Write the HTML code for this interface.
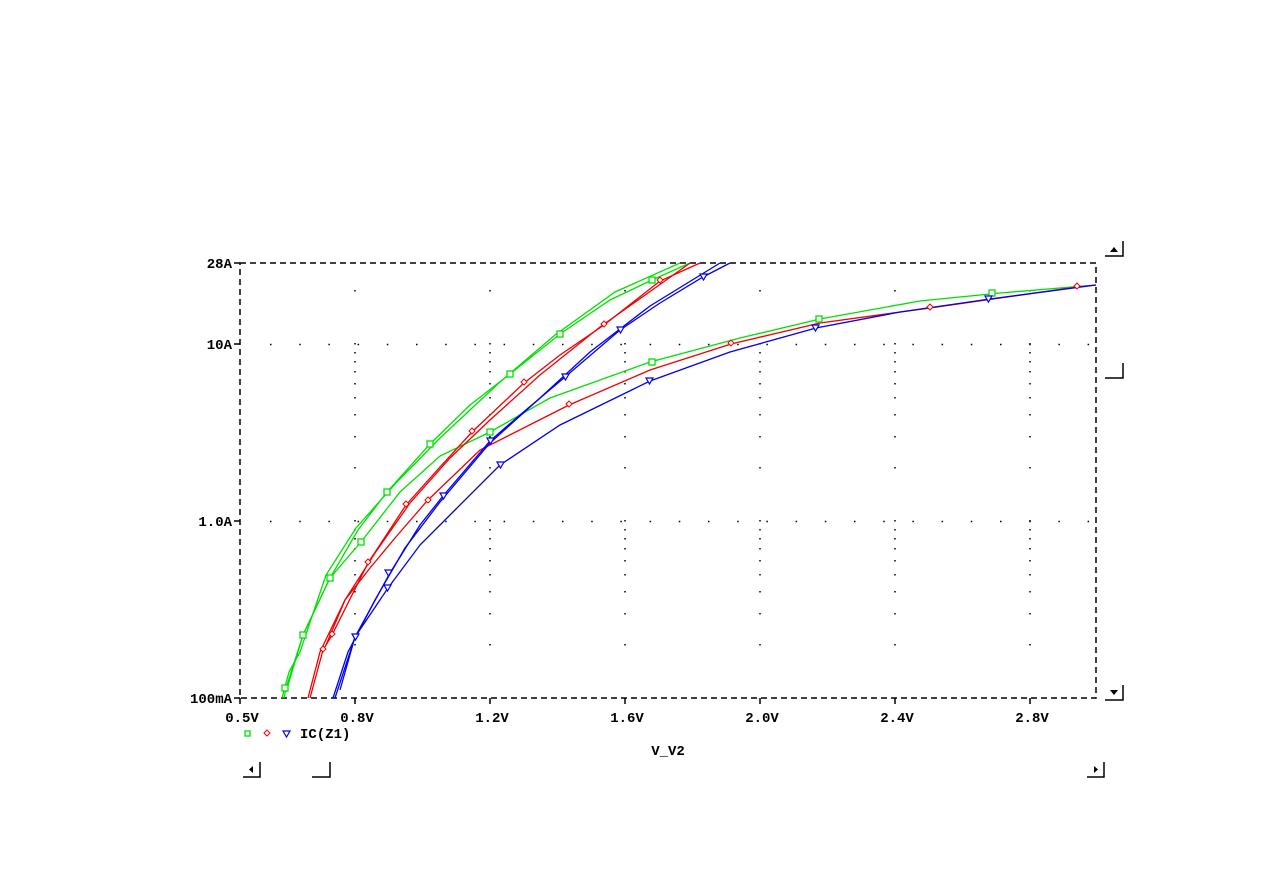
<!DOCTYPE html>
<html><head><style>
body{margin:0;background:#fff;}
svg{display:block;}
text{font-family:"Liberation Mono",monospace;font-weight:bold;font-size:14px;fill:#000;}
</style></head><body>
<svg width="1263" height="893" viewBox="0 0 1263 893" xmlns="http://www.w3.org/2000/svg">
<defs>
<path id="col" stroke="#000" stroke-width="1.5" d="M0 644v1.5M0 613v1.5M0 591v1.5M0 574v1.5M0 560v1.5M0 548v1.5M0 538v1.5M0 529v1.5M0 520v1.5M0 467v1.5M0 436v1.5M0 414v1.5M0 397v1.5M0 383v1.5M0 371v1.5M0 361v1.5M0 352v1.5M0 343v1.5M0 290v1.5"/>
</defs>
<use href="#col" x="355"/><use href="#col" x="490"/><use href="#col" x="625"/><use href="#col" x="760"/><use href="#col" x="895"/><use href="#col" x="1030"/>
<g stroke="#000" stroke-width="1.5" fill="none">
<path d="M270 344.5H1096M270 521.5H1096" stroke-dasharray="1.5,27.7"/>
<path d="M240 263H1096V698H240Z" stroke-dasharray="6,4"/>
<path d="M234 263H240M234 344H240M234 521H240M234 698H240M240 698V704M355 698V704M490 698V704M625 698V704M760 698V704M895 698V704M1030 698V704" />
</g>
<g fill="none" stroke-width="1.3">
<polyline stroke="#00e000" points="284,698 286,688 303,635 330,578 358,530 387,492 430,444 470,405 510,374 560,334 610,300 652,280 690,263"/>
<polyline stroke="#00e000" points="282,698 289,672 300,652 326,575 356,528 395,484 440,438 500,382 555,335 615,292 680,263"/>
<polyline stroke="#00e000" points="286,692 303,635 330,578 361,542 400,492 440,456 490,432 550,398 650,362 740,338 820,319 920,301 1000,293 1096,285"/>
<polyline stroke="#f00000" points="310,698 323,650 332,635 368,563 406,505 440,467 472,432 524,383 560,355 604,325 660,281 700,263"/>
<polyline stroke="#f00000" points="308,698 320,652 345,600 375,553 410,503 450,458 490,420 540,375 600,327 655,288 690,263"/>
<polyline stroke="#f00000" points="326,645 345,600 370,568 395,538 427,501 480,450 569,405 650,370 731,344 820,323 930,308 1000,298 1077,287 1096,285"/>
<polyline stroke="#0000f0" points="335,698 355,637 390,573 420,525 443,496 490,441 520,415 565,377 620,330 660,303 703,277 730,263"/>
<polyline stroke="#0000f0" points="333,698 348,652 375,600 405,548 440,502 490,443 540,398 590,352 650,306 720,263"/>
<polyline stroke="#0000f0" points="340,690 355,637 388,588 420,545 455,510 500,465 560,425 650,381 730,352 816,328 900,312 990,299 1096,285"/>
</g>
<g fill="#fff" stroke="#00e000" stroke-width="1.3">
<rect x="282" y="685" width="6" height="6"/><rect x="300" y="632" width="6" height="6"/><rect x="327" y="575" width="6" height="6"/><rect x="358" y="539" width="6" height="6"/><rect x="384" y="489" width="6" height="6"/><rect x="427" y="441" width="6" height="6"/><rect x="487" y="429" width="6" height="6"/><rect x="507" y="371" width="6" height="6"/><rect x="557" y="331" width="6" height="6"/><rect x="649" y="359" width="6" height="6"/><rect x="649" y="277" width="6" height="6"/><rect x="816" y="316" width="6" height="6"/><rect x="989" y="290" width="6" height="6"/>
</g>
<g fill="#fff" stroke="#f00000" stroke-width="1">
<path d="M323 646l3 3-3 3-3-3z M332 631l3 3-3 3-3-3z M368 559l3 3-3 3-3-3z M406 501l3 3-3 3-3-3z M428 497l3 3-3 3-3-3z M472 428l3 3-3 3-3-3z M524 379l3 3-3 3-3-3z M569 401l3 3-3 3-3-3z M604 321l3 3-3 3-3-3z M660 277l3 3-3 3-3-3z M731 340l3 3-3 3-3-3z M930 304l3 3-3 3-3-3z M1077 283l3 3-3 3-3-3z"/>
</g>
<g fill="#fff" stroke="#0000f0" stroke-width="1.2">
<path d="M352 634h7l-3.5 6z M385 570h7l-3.5 6z M384 585h7l-3.5 6z M440 493h7l-3.5 6z M487 438h7l-3.5 6z M497 462h7l-3.5 6z M562 374h7l-3.5 6z M617 327h7l-3.5 6z M646 378h7l-3.5 6z M700 274h7l-3.5 6z M812 325h7l-3.5 6z M985 296h7l-3.5 6z"/>
</g>
<g text-anchor="end">
<text x="232" y="268">28A</text><text x="232" y="349">10A</text><text x="232" y="526">1.0A</text><text x="232" y="703">100mA</text>
</g>
<g text-anchor="middle">
<text x="242" y="722">0.5V</text><text x="357" y="722">0.8V</text><text x="492" y="722">1.2V</text><text x="627" y="722">1.6V</text><text x="762" y="722">2.0V</text><text x="897" y="722">2.4V</text><text x="1032" y="722">2.8V</text>
<text x="668" y="755">V_V2</text>
</g>
<rect x="245" y="731" width="5" height="5" fill="none" stroke="#00e000" stroke-width="1.3"/>
<path d="M267 730l3 3-3 3-3-3z" fill="none" stroke="#f00000"/>
<path d="M283 731h7l-3.5 6z" fill="none" stroke="#0000f0" stroke-width="1.2"/>
<text x="300" y="738">IC(Z1)</text>
<g stroke="#000" stroke-width="1.5" fill="none">
<path d="M1105 256H1123V241"/><path d="M1105 378H1123V363"/><path d="M1105 700H1123V685"/>
<path d="M243 777H260V762"/><path d="M312 777H330V762"/><path d="M1087 777H1104V762"/>
</g>
<path d="M1110 252l4-5 4 5z" fill="#000"/>
<path d="M1110 690l4 5 4-5z" fill="#000"/>
<path d="M253 766v7l-4-3.5z" fill="#000"/>
<path d="M1094 766v7l4-3.5z" fill="#000"/>
</svg>
</body></html>
